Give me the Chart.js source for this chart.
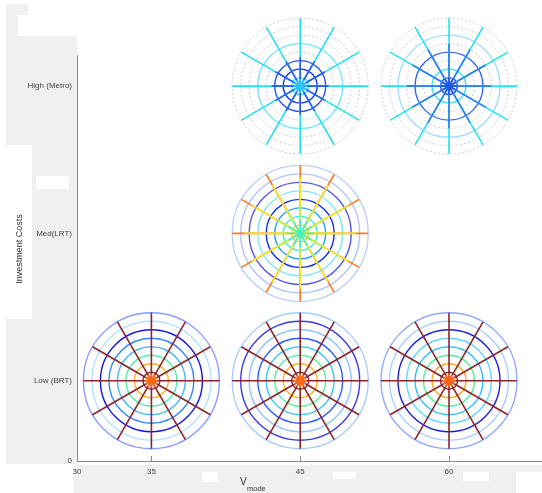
<!DOCTYPE html>
<html>
<head>
<meta charset="utf-8">
<script src="https://cdn.jsdelivr.net/npm/chart.js@4.4.1/dist/chart.umd.min.js"></script>
<style>
  html, body { margin: 0; padding: 0; background: #fff; }
  #wrap { width: 542px; height: 493px; position: relative; }
</style>
</head>
<body>
<div id="wrap"><canvas id="chart" width="542" height="493"></canvas></div>
<script>
// axis ticks (x is spaced by case, not by speed)
const speedLabels = ['30', '35', '45', '60'];
const speedPos = [0, 0.5, 1.5, 2.5];
const costLabels = ['0', 'Low (BRT)', 'Med(LRT)', 'High (Metro)'];
const costPos = [0, 0.545, 1.545, 2.545];

// one glyph per case
const glyphSpeed = ['35', '45', '60', '45', '45', '60'];
const glyphCost = ['Low (BRT)', 'Low (BRT)', 'Low (BRT)', 'Med(LRT)', 'High (Metro)', 'High (Metro)'];
const glyphRadius = 0.457; // in x-axis units
const ringCount = 8;

// ring colours, inner -> outer (null = empty dotted ring)
const ringColors = [
  ['#8c2222', '#ffb31a', '#4df2b0', '#40b8ff', '#2f86ff', '#1414e6', '#b4e2ff', '#8a9cff'],
  ['#8c2222', '#ffb31a', '#5af0a0', '#3cc8ff', '#2a5cff', '#8cc4ff', '#3a3ae4', '#a6ccff'],
  ['#8c2222', '#ffa820', '#50f0a0', '#30c0ff', '#60d8ff', '#1a1ae6', '#a8d0ff', '#90a8ff'],
  ['#f0c830', '#30f0e0', '#2aa0ff', '#0c2cf0', '#80e4ff', '#5656ee', '#b0c4ff', '#b8d0ff'],
  ['#40e0ff', '#1434e0', '#2a50f0', null, '#78e4ff', null, null, null],
  ['#2040f0', '#40e0f0', null, '#3468f0', null, '#a0dcff', null, null]
];

// spoke colour bands, outer -> inner: [fraction of radius, colour]
const spokeBands = [
  [[1, '#8c2525'], [0.1, '#ff6a10']],
  [[1, '#8c2525'], [0.1, '#ff6a10']],
  [[1, '#8c2525'], [0.1, '#ff6a10']],
  [[1, '#ff7a1a'], [0.82, '#f4e824'], [0.4, '#c4f048'], [0.2, '#40f0d0']],
  [[1, '#22e0f0'], [0.42, '#2858f0'], [0.1, '#30c8ff']],
  [[1, '#22e4f0'], [0.62, '#3078f0'], [0.12, '#2050e8']]
];
const spokeAngles = [0, 30, 60, 90, 120, 150];

// build point lists
const ringPts = [], dotPts = [], spokePts = [];
glyphSpeed.forEach((s, g) => {
  const x = speedPos[speedLabels.indexOf(s)];
  const y = costPos[costLabels.indexOf(glyphCost[g])];
  ringColors[g].forEach((c, k) => {
    const p = { x: x, y: y, f: (k + 1) / ringCount, c: c };
    if (c) ringPts.push(p); else dotPts.push(p);
  });
  spokeBands[g].forEach(b => {
    spokeAngles.forEach(a => spokePts.push({ x: x, y: y, f: b[0], c: b[1], a: a }));
  });
});

function pxR(chart) {
  const sx = chart.scales.x;
  return sx.getPixelForValue(glyphRadius) - sx.getPixelForValue(0);
}
const radiusOf = c => (c.raw ? c.raw.f * pxR(c.chart) : 0);
const colorOf = c => (c.raw ? c.raw.c : '#000');

// figure background + titles + inward ticks
const decor = {
  id: 'decor',
  beforeDraw(chart) {
    const ctx = chart.ctx;
    ctx.save();
    ctx.fillStyle = '#f0f0f0';
    [[6, 4, 22, 11], [6, 15, 12, 21], [6, 36, 71, 109], [32, 145, 45, 174],
     [6, 319, 71, 145], [74, 465, 468, 28]].forEach(r => ctx.fillRect(r[0], r[1], r[2], r[3]));
    ctx.fillStyle = '#ffffff';
    [[36, 176, 33, 13], [202, 472, 16, 10], [333, 472, 23, 7], [463, 472, 26, 9],
     [516, 472, 26, 21]].forEach(r => ctx.fillRect(r[0], r[1], r[2], r[3]));
    ctx.restore();
  },
  beforeDatasetDraw(chart, args) {
    if (chart.data.datasets[args.index].dashed) chart.ctx.setLineDash([2, 2]);
  },
  afterDatasetDraw(chart) {
    chart.ctx.setLineDash([]);
  },
  afterDraw(chart) {
    const ctx = chart.ctx;
    const a = chart.chartArea;
    ctx.save();
    ctx.strokeStyle = '#8a8a8a';
    ctx.lineWidth = 1;
    speedPos.slice(1).forEach(v => {
      const px = Math.round(chart.scales.x.getPixelForValue(v)) + 0.5;
      ctx.beginPath();
      ctx.moveTo(px, a.bottom);
      ctx.lineTo(px, a.bottom - 5);
      ctx.stroke();
    });
    ctx.fillStyle = '#333';
    ctx.textBaseline = 'middle';
    ctx.font = '10px "Liberation Sans", Arial, sans-serif';
    ctx.fillText('V', 240, 482.5);
    ctx.font = '7.5px "Liberation Sans", Arial, sans-serif';
    ctx.fillText('mode', 247, 488.5);
    ctx.translate(20, 249);
    ctx.rotate(-Math.PI / 2);
    ctx.textAlign = 'center';
    ctx.font = '9px "Liberation Sans", Arial, sans-serif';
    ctx.fillText('Investment Costs', 0, 0);
    ctx.restore();
  }
};

const tickFont = { family: '"Liberation Sans", Arial, sans-serif', size: 8 };

new Chart(document.getElementById('chart'), {
  type: 'scatter',
  data: {
    datasets: [
      {
        data: dotPts, dashed: true, clip: false, order: 3,
        pointStyle: 'circle', pointRadius: radiusOf,
        pointBorderColor: '#cccccc', pointBackgroundColor: 'rgba(0,0,0,0)', pointBorderWidth: 1
      },
      {
        data: ringPts, clip: false, order: 2,
        pointStyle: 'circle', pointRadius: radiusOf,
        pointBorderColor: colorOf, pointBackgroundColor: 'rgba(0,0,0,0)', pointBorderWidth: 1.4
      },
      {
        data: spokePts, clip: false, order: 1,
        pointStyle: 'line', pointRadius: radiusOf, pointRotation: c => (c.raw ? c.raw.a : 0),
        pointBorderColor: colorOf, pointBackgroundColor: 'rgba(0,0,0,0)', pointBorderWidth: 1.6
      }
    ]
  },
  options: {
    responsive: false,
    animation: false,
    events: [],
    layout: { padding: { top: 55, left: 0, right: 0, bottom: 0 } },
    plugins: { legend: { display: false }, tooltip: { enabled: false } },
    scales: {
      x: {
        type: 'linear', min: 0, max: 3.125,
        afterBuildTicks: s => { s.ticks = speedPos.map(v => ({ value: v })); },
        afterFit: s => { s.height = 32; },
        ticks: {
          callback: (v, i) => speedLabels[i], autoSkip: false, maxRotation: 0,
          padding: 6, color: '#444', font: tickFont
        },
        grid: { drawOnChartArea: false, drawTicks: false },
        border: { color: '#8a8a8a', width: 1 }
      },
      y: {
        type: 'linear', min: 0, max: 2.756,
        afterBuildTicks: s => { s.ticks = costPos.map(v => ({ value: v })); },
        afterFit: s => { s.width = 77; },
        ticks: {
          callback: (v, i) => costLabels[i], autoSkip: false,
          padding: 5, color: '#444', font: tickFont
        },
        grid: { drawOnChartArea: false, drawTicks: false },
        border: { color: '#8a8a8a', width: 1 }
      }
    }
  },
  plugins: [decor]
});
</script>
</body>
</html>
